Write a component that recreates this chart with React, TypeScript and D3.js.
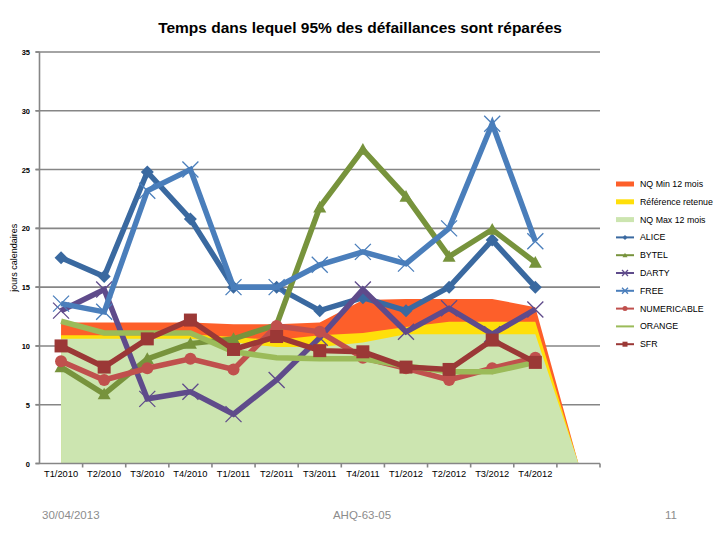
import * as d3 from 'd3';

// quarters (the last slot is empty: the areas drop to 0 there)
const categories = ['T1/2010', 'T2/2010', 'T3/2010', 'T4/2010', 'T1/2011', 'T2/2011', 'T3/2011', 'T4/2011', 'T1/2012', 'T2/2012', 'T3/2012', 'T4/2012', ''];
const yTicks = [0, 5, 10, 15, 20, 25, 30, 35];

// area series
const nqMin = [12, 12, 12, 12, 11.85, 11.85, 12, 13.9, 14, 14, 14, 13.3, 0];
const reference = [10.9, 10.9, 10.9, 11, 10.75, 10.5, 10.9, 11.1, 11.6, 12.05, 12.05, 12.05, 0];
const nqMax = [10.6, 10.6, 10.6, 10.6, 10.3, 9.9, 9.9, 10.3, 11, 11, 11, 11, 0];

// operators
const alice = [17.5, 15.9, 24.8, 20.8, 15, 15, 13, 14.1, 13, 15, 19, 15];
const bytel = [8.2, 5.9, 8.9, 10.2, 10.6, 11.8, 21.8, 26.7, 22.7, 17.6, 19.9, 17.1];
const darty = [13, 14.8, 5.5, 6.1, 4.2, 7.1, 10.7, 14.8, 11.2, 13.2, 11, 13.1];
const free = [13.6, 12.9, 23.2, 25, 15, 15, 16.9, 18, 17, 20, 28.9, 18.9];
const numericable = [8.7, 7.1, 8.1, 8.9, 8, 11.7, 11.2, 9, 8.1, 7.1, 8.1, 9];
const orange = [12.1, 11.1, 11.1, 11.1, 9.5, 9, 8.9, 8.9, 8.3, 7.8, 7.8, 8.6];
const sfr = [10, 8.2, 10.6, 12.2, 9.7, 10.8, 9.6, 9.5, 8.2, 8, 10.5, 8.6];

const areas = [
  { name: 'NQ Min 12 mois', values: nqMin, color: '#fd5f2a' },
  { name: 'Référence retenue', values: reference, color: '#ffdf0a' },
  { name: 'NQ Max 12 mois', values: nqMax, color: '#cce5b0' },
];

const lines = [
  { name: 'ALICE', values: alice, color: '#3a69a0', marker: 'diamond' },
  { name: 'BYTEL', values: bytel, color: '#77933c', marker: 'triangle' },
  { name: 'DARTY', values: darty, color: '#5f4b8b', marker: 'x' },
  { name: 'FREE', values: free, color: '#4a7ebb', marker: 'x' },
  { name: 'NUMERICABLE', values: numericable, color: '#c0504d', marker: 'circle' },
  { name: 'ORANGE', values: orange, color: '#9bbb59', marker: 'none' },
  { name: 'SFR', values: sfr, color: '#9b3836', marker: 'square' },
];

const font = '"Liberation Sans", Arial, sans-serif';
const gridColor = '#868686';

const x = d3.scaleBand().domain(categories).range([39.5, 600]).padding(0);
const y = d3.scaleLinear().domain([0, 35]).range([463.5, 52]);
const cx = (i: number) => (x(categories[i]) as number) + x.bandwidth() / 2;

const areaGen = d3
  .area<number>()
  .x((_, i) => cx(i))
  .y0(y(0))
  .y1((d) => y(d));

const lineGen = d3
  .line<number>()
  .x((_, i) => cx(i))
  .y((d) => y(d));

function Marker({ type, px, py, color, s }) {
  if (type === 'diamond') {
    return <path d={`M${px},${py - s}L${px + s},${py}L${px},${py + s}L${px - s},${py}Z`} fill={color} />;
  }
  if (type === 'triangle') {
    return <path d={`M${px},${py - s}L${px + s},${py + s * 0.8}L${px - s},${py + s * 0.8}Z`} fill={color} />;
  }
  if (type === 'x') {
    return (
      <path
        d={`M${px - s},${py - s}L${px + s},${py + s}M${px - s},${py + s}L${px + s},${py - s}`}
        stroke={color}
        strokeWidth={1.3}
      />
    );
  }
  if (type === 'circle') {
    return <circle cx={px} cy={py} r={s} fill={color} />;
  }
  if (type === 'square') {
    return <rect x={px - s} y={py - s} width={s * 2} height={s * 2} fill={color} />;
  }
  return null;
}

const legendX = 616;
const legendY = 184;
const legendStep = 17.8;

export default function App() {
  return (
    <svg
      width={720}
      height={540}
      style={{ position: 'absolute', left: 0, top: 0, background: '#fff' }}
    >
      <text x={360} y={33} textAnchor="middle" fontFamily={font} fontWeight="bold" fontSize={15.5}>
        Temps dans lequel 95% des défaillances sont réparées
      </text>

      {/* grid + y ticks */}
      {yTicks.map((t) => (
        <g key={t}>
          {t > 0 && <line x1={35.5} x2={600} y1={y(t)} y2={y(t)} stroke={gridColor} strokeWidth={1.6} />}
          <line x1={35.5} x2={39.5} y1={y(t)} y2={y(t)} stroke={gridColor} strokeWidth={1.6} />
          <text x={30} y={y(t) + 3} textAnchor="end" fontFamily={font} fontWeight="bold" fontSize={7.5}>
            {t}
          </text>
        </g>
      ))}
      <text
        transform={`translate(17,${y(17.5)}) rotate(-90)`}
        textAnchor="middle"
        fontFamily={font}
        fontSize={9}
      >
        jours calendaires
      </text>

      {/* areas */}
      {areas.map((a) => (
        <path key={a.name} d={areaGen(a.values) as string} fill={a.color} />
      ))}

      {/* axes */}
      <line x1={39.5} x2={39.5} y1={52} y2={463.5} stroke={gridColor} strokeWidth={1.6} />
      <line x1={35.5} x2={600} y1={y(0)} y2={y(0)} stroke={gridColor} strokeWidth={1.6} />
      {categories.map((c, i) => {
        const bx = (x(c) as number) + x.bandwidth();
        return (
          <g key={'xt' + i}>
            <line x1={bx} x2={bx} y1={y(0)} y2={y(0) + 4} stroke={gridColor} strokeWidth={1.6} />
            <text x={cx(i)} y={477} textAnchor="middle" fontFamily={font} fontSize={9.3}>
              {c}
            </text>
          </g>
        );
      })}

      {/* lines */}
      {lines.map((l) => (
        <g key={l.name}>
          <path
            d={lineGen(l.values) as string}
            fill="none"
            stroke={l.color}
            strokeWidth={5.5}
            strokeLinejoin="miter"
          />
          {l.values.map((v, i) => (
            <Marker
              key={i}
              type={l.marker}
              px={cx(i)}
              py={y(v)}
              color={l.color}
              s={l.marker === 'x' ? 8 : l.marker === 'circle' ? 6 : 6.5}
            />
          ))}
        </g>
      ))}

      {/* legend */}
      {areas.map((a, i) => (
        <g key={'la' + a.name}>
          <rect x={legendX} y={legendY + i * legendStep - 2.5} width={18} height={5} fill={a.color} />
          <text x={legendX + 24} y={legendY + i * legendStep + 3} fontFamily={font} fontSize={8.8}>
            {a.name}
          </text>
        </g>
      ))}
      {lines.map((l, j) => {
        const ly = legendY + (j + 3) * legendStep;
        return (
          <g key={'ll' + l.name}>
            <line x1={legendX} x2={legendX + 18} y1={ly} y2={ly} stroke={l.color} strokeWidth={2} />
            <Marker type={l.marker} px={legendX + 9} py={ly} color={l.color} s={l.marker === 'x' ? 3 : 2.5} />
            <text x={legendX + 24} y={ly + 3} fontFamily={font} fontSize={8.8}>
              {l.name}
            </text>
          </g>
        );
      })}

      {/* footer */}
      <text x={42} y={519} fontFamily={font} fontSize={11.5} fill="#8c8c8c">
        30/04/2013
      </text>
      <text x={362} y={519} textAnchor="middle" fontFamily={font} fontSize={11.5} fill="#8c8c8c">
        AHQ-63-05
      </text>
      <text x={677} y={519} textAnchor="end" fontFamily={font} fontSize={11.5} fill="#8c8c8c">
        11
      </text>
    </svg>
  );
}
